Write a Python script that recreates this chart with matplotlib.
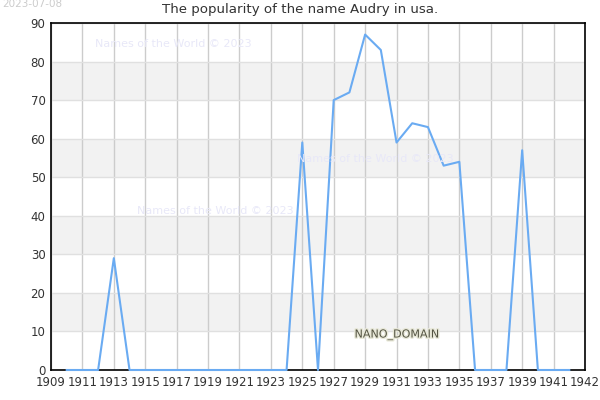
import numpy as np
import matplotlib
matplotlib.use("Agg")
from matplotlib import pyplot as plt
import matplotlib.patheffects as pe

years = list(range(1910, 1943))
values = [0, 0, 0, 29, 0, 0, 0, 0, 0, 0, 0, 0, 0, 0, 0, 59, 0, 70, 72, 87,
          83, 59, 64, 63, 53, 54, 0, 0, 0, 57, 0, 0, 0]
tick_years = list(range(1909, 1942, 2)) + [1943]
tick_labels = [str(y) for y in range(1909, 1942, 2)] + ["1942"]

fig = plt.figure(figsize=(6, 4), dpi=100)
ax = fig.add_axes([51 / 600, 30 / 400, 534 / 600, 347 / 400])

for lo in range(10, 90, 20):
    ax.axhspan(lo, lo + 10, color='#f2f2f2', zorder=0, lw=0)

ax.plot(years, values, color='#6aabf2', lw=1.5, zorder=3, clip_on=False)

ax.set_xlim(1909, 1943)
ax.set_ylim(0, 90)
ax.set_xticks(tick_years)
ax.set_xticklabels(tick_labels)
ax.set_yticks(range(0, 91, 10))
ax.tick_params(labelsize=8.5, colors='#333333', length=0, pad=4)
ax.xaxis.grid(True, color='#cccccc', lw=1, zorder=1)
ax.yaxis.grid(True, color='#e0e0e0', lw=1, zorder=1)
ax.set_axisbelow(True)
for s in ax.spines.values():
    s.set_color('black')
    s.set_linewidth(1.2)

fig.text(0.5, 1 - 10 / 400, "The popularity of the name Audry in usa.",
         ha='center', va='center', fontsize=9.6, color='#333333')
fig.text(2 / 600, 1 - 4 / 400, "2023-07-08", ha='left', va='center',
         fontsize=7.5, color='#cccccc')

wm = [(95, 44), (137, 211), (297, 159)]
for px, py in wm:
    fig.text(px / 600, 1 - py / 400, "Names of the World © 2023", ha='left',
             va='center', fontsize=8, color='#e8e8f8', zorder=2)

fig.text(397 / 600, 1 - 335 / 400, "NANO_DOMAIN", ha='center', va='center',
         fontsize=8, color='#555544',
         path_effects=[pe.withStroke(linewidth=2, foreground='#e8e8d8')])

fig.savefig("out.png", dpi=100)
